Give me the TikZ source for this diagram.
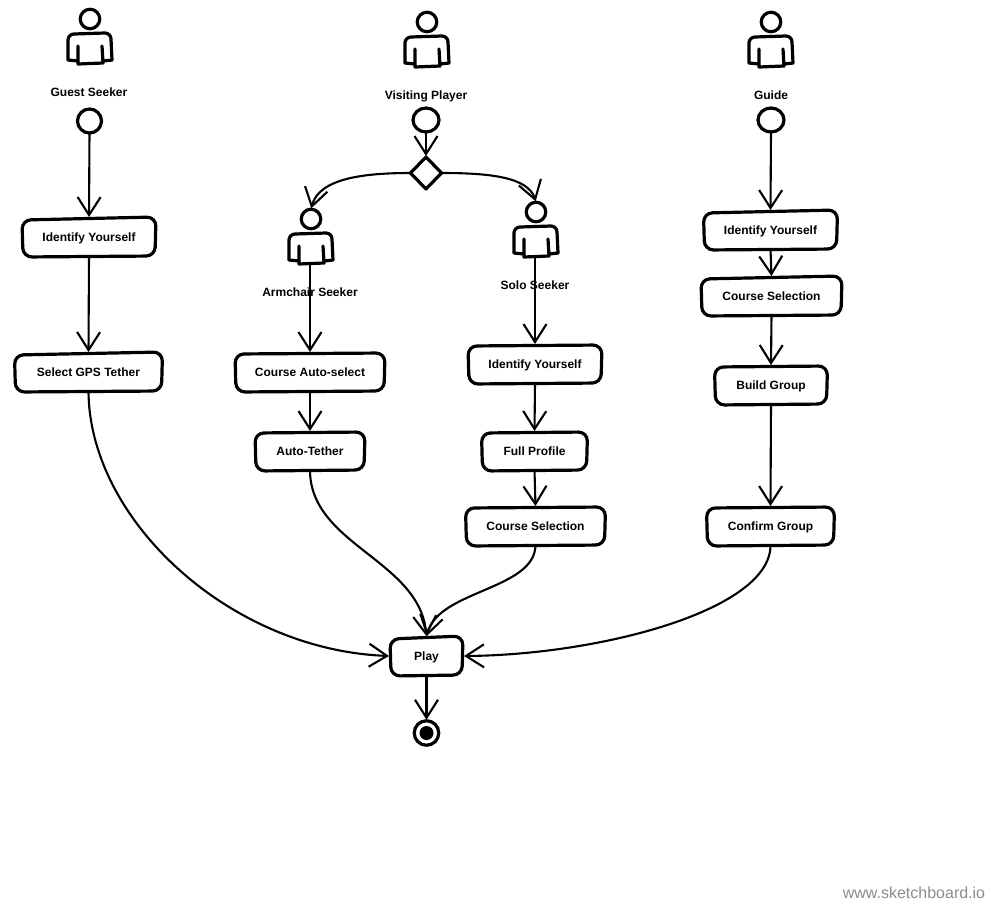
\documentclass[tikz,border=0pt]{standalone}
\usepackage{fontspec}
\setmainfont{Liberation Sans}
\usetikzlibrary{arrows.meta,shapes.geometric}
\tikzset{
  ink/.style={draw=black,line width=3.2pt,line join=round,line cap=round},
  flow/.style={draw=black,line width=2.1pt,-{Straight Barb[length=18pt,width=23pt,line width=2.1pt]},shorten >=1pt},
  activity/.style={inner sep=0pt,outer sep=0pt,text height=10pt,text depth=1pt,font=\bfseries\fontsize{12}{14}\selectfont},
  caption/.style={inner sep=0pt,outer sep=0pt,text height=10pt,text depth=1pt,font=\bfseries\fontsize{12}{14}\selectfont},
  startdot/.style={ellipse,ink,inner sep=0pt,outer sep=0pt,minimum width=24pt,minimum height=24pt},
  figure/.style={inner sep=0pt,outer sep=0pt,minimum width=44pt,minimum height=31pt},
  headdot/.style={circle,ink,inner sep=0pt,outer sep=0pt,minimum size=19.5pt}
}
% name, centre x, centre y, half width, half height, skews, text
\newcommand{\actbox}[8]{%
  \node[activity,minimum width=#4*2pt,minimum height=#5*2pt] (#1) at (#2,#3) {#8};
  \draw[ink,rounded corners=9pt]
    (#2-#4,#3-#5+#6) -- (#2+#4,#3-#5-#6+1) -- (#2+#4-#7,#3+#5) -- (#2-#4+#7,#3+#5+1) -- cycle;
}
% name, head x, head y
\newcommand{\actor}[3]{%
  \node[headdot] (#1head) at (#2,#3) {};
  \node[figure] (#1) at (#2-1,#3+30) {};
  \draw[ink] (#2-22,#3+41) -- (#2-22,#3+21)
     arc[start angle=180,end angle=90,radius=6pt] -- (#2+15,#3+14)
     arc[start angle=90,end angle=0,radius=6pt] -- (#2+22,#3+41);
  \draw[ink] (#2-22,#3+41) -- (#2-12,#3+42) (#2+13,#3+42) -- (#2+22,#3+41);
  \draw[ink] (#2-12,#3+27) -- (#2-12,#3+45) -- (#2+13,#3+44) -- (#2+12,#3+27);
}
\begin{document}
\begin{tikzpicture}[x=1pt,y=-1pt]
\useasboundingbox (0,0) rectangle (1001,913);

\actor{guestfig}{90}{19}
\actor{visitfig}{427}{22}
\actor{guidefig}{771}{22}
\actor{armfig}{311}{219}
\actor{solofig}{536}{212}

\node[caption] (guestcap) at (89,92) {Guest Seeker};
\node[caption] (visitcap) at (426,95) {Visiting Player};
\node[caption] (guidecap) at (771,95) {Guide};
\node[caption] (armcap) at (310,292) {Armchair Seeker};
\node[caption] (solocap) at (535,285) {Solo Seeker};

\node[startdot] (guest) at (89.5,121) {};
\node[startdot,minimum width=26pt] (visit) at (426,120) {};
\node[startdot,minimum width=26pt] (guide) at (771,120) {};

\node[diamond,ink,inner sep=0pt,outer sep=0pt,minimum width=31pt,minimum height=32pt,aspect=1] (fork) at (426,173) {};

\actbox{idA}{89}{237}{67}{19}{2}{1}{Identify Yourself}
\actbox{gps}{88.5}{372}{74}{19}{2}{1}{Select GPS Tether}
\actbox{auto}{310}{372}{75}{19}{1}{1}{Course Auto-select}
\actbox{tether}{310}{451}{55}{19}{1}{1}{Auto-Tether}
\actbox{idB}{535}{364}{67}{19}{1}{1}{Identify Yourself}
\actbox{full}{534.5}{451}{53}{19}{1}{1}{Full Profile}
\actbox{courseB}{535.5}{526}{70}{19}{1}{1}{Course Selection}
\actbox{idC}{770.5}{230}{67}{19}{2}{1}{Identify Yourself}
\actbox{courseC}{771.5}{296}{70.5}{19}{2}{1}{Course Selection}
\actbox{build}{771}{385}{56.5}{19}{1}{1}{Build Group}
\actbox{confirm}{770.5}{526}{64}{19}{1}{1}{Confirm Group}
\actbox{play}{426.5}{656}{36.5}{19}{2}{1}{Play}

\node[circle,draw=black,line width=3.2pt,inner sep=0pt,outer sep=0pt,minimum size=24.5pt] (end) at (426.5,733) {};
\node[circle,fill=black,inner sep=0pt,minimum size=14pt] (enddot) at (426.5,733) {};

\node[font=\fontsize{16}{18}\selectfont,text=black!45,inner sep=0pt] (mark) at (914,893) {www.sketchboard.io};

\draw[flow] (guest.south) -- (idA.north);
\draw[flow] (idA.south) -- (gps.north);
\draw[flow] (visit.south) -- (fork.north);
\draw[flow] (fork.west) .. controls (365,173) and (319,178) .. (armfighead.north);
\draw[flow] (armfig.south) -- (auto.north);
\draw[flow] (auto.south) -- (tether.north);
\draw[flow] (fork.east) .. controls (485,173) and (528,176) .. (solofighead.north);
\draw[flow] (solofig.south) -- (idB.north);
\draw[flow] (idB.south) -- (full.north);
\draw[flow] (full.south) -- (courseB.north);
\draw[flow] (guide.south) -- (idC.north);
\draw[flow] (idC.south) -- (courseC.north);
\draw[flow] (courseC.south) -- (build.north);
\draw[flow] (build.south) -- (confirm.north);
\draw[flow] (gps.south) .. controls (89,520) and (230,650) .. (play.west);
\draw[flow] (tether.south) .. controls (310,545) and (420,560) .. (play.north);
\draw[flow] (courseB.south) .. controls (535,590) and (438,590) .. (play.north);
\draw[flow] (confirm.south) .. controls (771,610) and (600,655) .. (play.east);
\draw[flow] (play.south) -- (end.north);
\end{tikzpicture}
\end{document}
